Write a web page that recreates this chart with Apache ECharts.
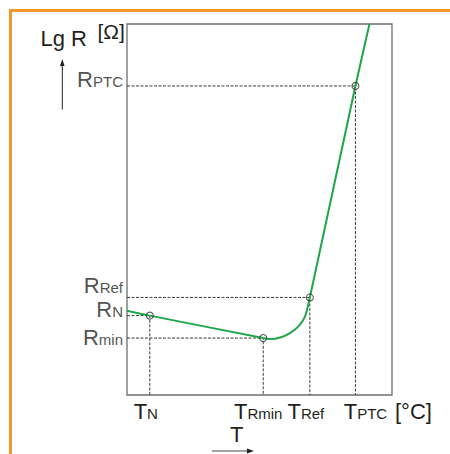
<!DOCTYPE html>
<html>
<head>
<meta charset="utf-8">
<title>PTC Lg R - T</title>
<script src="https://cdn.jsdelivr.net/npm/echarts@6/dist/echarts.min.js"></script>
<style>
html, body { margin: 0; padding: 0; background: #fff; }
#chart { width: 450px; height: 454px; }
</style>
</head>
<body>
<div id="chart"></div>
<script>
// resistance curve (both axes in % of the plot)
const curveT   = [0, 8.6, 51.4, 54.0, 57.8, 61.5, 64.7, 67.2, 69.0, 86.2, 91.5];
const curveLgR = [22.7, 21.4, 15.35, 15.08, 15.5, 16.7, 18.5, 21.2, 26.3, 83.3, 100];

// marked points: N, Rmin, Ref, PTC
const markT   = [8.6, 51.4, 69.0, 86.2];
const markLgR = [21.4, 15.35, 26.3, 83.3];

// tick labels: letter + subscript
const xLabelSubs = ['N', 'Rmin', 'Ref', 'PTC'];
const yLabelSubs = ['N', 'min', 'Ref', 'PTC'];

const FONT = '"Liberation Sans", Arial, Helvetica, sans-serif';
const INK = '#231f20';
// small nudges of the labels, in px (layout only)
const xShift = [-4, -5, -4, 10];
const yShift = [-6, -1, -12, -6];

const rich = {
    m: { fontSize: 22, fontFamily: FONT, color: INK, verticalAlign: 'bottom' },
    s: { fontSize: 15, fontFamily: FONT, color: INK, verticalAlign: 'bottom', padding: [0, 0, 1.5, 0] }
};
xShift.forEach((d, i) => { rich['h' + i] = { width: Math.abs(2 * d), height: 1 }; });

function findIdx(arr, v) {
    for (let i = 0; i < arr.length; i++) if (Math.abs(arr[i] - v) < 1e-6) return i;
    return -1;
}

const chart = echarts.init(document.getElementById('chart'), null, { renderer: 'svg' });

const guides = markT.map((t, i) => ({
    type: 'line',
    data: [[0, markLgR[i]], [t, markLgR[i]], [t, 0]],
    symbol: 'none',
    silent: true,
    z: 1,
    lineStyle: { color: '#3a3a3a', width: 1, type: [3, 1.5] }
}));

chart.setOption({
    animation: false,
    grid: {
        left: 127, right: 58, top: 24, bottom: 59,
        show: true, borderColor: '#6e6e6e', borderWidth: 1.3,
        outerBoundsMode: 'none'
    },
    xAxis: {
        type: 'value', min: 0, max: 100,
        axisLine: { show: false }, axisTick: { show: false }, splitLine: { show: false },
        name: '[°C]', nameLocation: 'end', nameGap: 3, nameMoveOverlap: false,
        nameTextStyle: { fontSize: 22, fontFamily: FONT, color: INK, verticalAlign: 'top', padding: [5, 0, 0, 0] },
        axisLabel: {
            customValues: markT,
            margin: 5,
            hideOverlap: false,
            rich: rich,
            formatter: function (v) {
                const i = findIdx(markT, v);
                if (i < 0) return '';
                const pad = '{h' + i + '|}';
                const txt = '{m|T}{s|' + xLabelSubs[i] + '}';
                return xShift[i] < 0 ? txt + pad : pad + txt;
            }
        }
    },
    yAxis: {
        type: 'value', min: 0, max: 100,
        axisLine: { show: false }, axisTick: { show: false }, splitLine: { show: false },
        axisLabel: { show: false }
    },
    graphic: [
        { type: 'polyline', silent: true, shape: { points: [[10.5, 454], [10.5, 10.5], [450, 10.5]] },
          style: { stroke: '#f0982a', lineWidth: 3, fill: null } },
        { type: 'text', x: 87, y: 38.5, style: { text: 'Lg R', font: '22px ' + FONT, fill: INK, align: 'right', verticalAlign: 'middle' } },
        { type: 'text', x: 97.5, y: 31.5, style: { text: '[Ω]', font: '21px ' + FONT, fill: INK, align: 'left', verticalAlign: 'middle' } },
        { type: 'line', shape: { x1: 62.3, y1: 109.5, x2: 62.3, y2: 64 }, style: { stroke: INK, lineWidth: 1 } },
        { type: 'polygon', shape: { points: [[62.3, 59], [60, 66], [64.6, 66]] }, style: { fill: INK } },
        { type: 'text', x: 236.7, y: 434.5, style: { text: 'T', font: '22px ' + FONT, fill: INK, align: 'center', verticalAlign: 'middle' } },
        { type: 'line', shape: { x1: 212, y1: 451, x2: 248, y2: 451 }, style: { stroke: '#444', lineWidth: 1.2 } },
        { type: 'polygon', shape: { points: [[254, 451], [247, 448.6], [247, 453.4]] }, style: { fill: INK } }
    ],
    series: guides.concat([
        {
            type: 'line',
            data: curveT.map((t, i) => [t, curveLgR[i]]),
            smooth: 0.25,
            symbol: 'none',
            z: 3,
            lineStyle: { color: '#1fa64a', width: 2 }
        },
        {
            type: 'scatter',
            data: markT.map((t, i) => [t, markLgR[i]]),
            symbol: 'circle',
            symbolSize: 7,
            z: 4,
            itemStyle: { color: 'rgba(0,0,0,0)', borderColor: '#333', borderWidth: 1.1 }
        },
        {
            // y tick labels R_x, anchored on the left edge of the plot
            type: 'scatter',
            data: markLgR.map((r, i) => ({
                value: [0, r],
                label: { offset: [0, yShift[i]] }
            })),
            symbolSize: 0,
            silent: true,
            clip: false,
            z: 5,
            label: {
                show: true,
                position: 'left',
                distance: 4,
                rich: rich,
                formatter: function (p) {
                    return '{m|R}{s|' + yLabelSubs[p.dataIndex] + '}';
                }
            }
        }
    ])
});
</script>
</body>
</html>
